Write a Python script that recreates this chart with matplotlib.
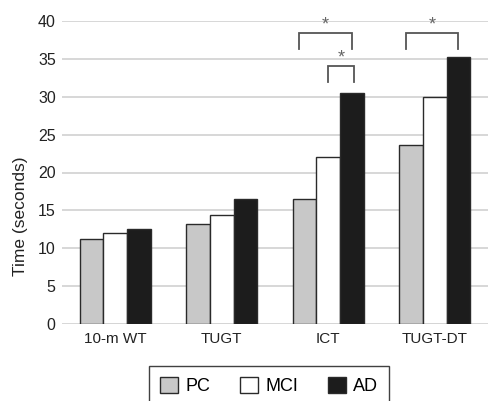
import matplotlib
matplotlib.use("Agg")
import matplotlib.pyplot as plt
import numpy as np

plt.rcParams['font.family'] = ['Liberation Sans', 'DejaVu Sans']

categories = ["10-m WT", "TUGT", "ICT", "TUGT-DT"]
groups = ["PC", "MCI", "AD"]
pc = [11.2, 13.2, 16.5, 23.6]
mci = [12.0, 14.4, 22.1, 30.0]
ad = [12.5, 16.5, 30.5, 35.3]
yticks = [0, 5, 10, 15, 20, 25, 30, 35, 40]
colors = ["#c8c8c8", "#ffffff", "#1c1c1c"]

fig = plt.figure(figsize=(4.89, 4.01), dpi=100)
ax = fig.add_axes([62/489, 1-324/401, 426/489, 303/401])

x = np.arange(len(categories))
w = 0.222
series = [pc, mci, ad]
for i, (vals, col, name) in enumerate(zip(series, colors, groups)):
    ax.bar(x + (i-1)*w, vals, w, color=col, edgecolor="#2a2a2a", linewidth=1.0,
           label=name, zorder=3)

ax.set_xlim(-0.5, 3.5)
ax.set_ylim(0, 40)
ax.set_yticks(yticks)
ax.set_xticks(x)
ax.set_xticklabels(categories, fontsize=11)
ax.tick_params(axis='y', labelsize=11.5, length=0, pad=4.5, colors="#222222")
ax.tick_params(axis='x', length=0, pad=6, colors="#222222")
ax.grid(axis='y', color="#d4d4d4", linewidth=1.3, zorder=0)
for s in ax.spines.values():
    s.set_visible(False)
ax.set_ylabel("Time (seconds)", fontsize=12.5, color="#222222")
ax.yaxis.set_label_coords(-0.08, (324-216)/303)

def bracket(x1, x2, ybot, ytop, ystar):
    ax.plot([x1, x1, x2, x2], [ybot, ytop, ytop, ybot], color="#555555",
            linewidth=1.3, zorder=4, solid_joinstyle='miter')
    ax.text((x1+x2)/2, ystar, "*", ha='center', va='center', fontsize=13,
            color="#666666")

# ICT PC vs AD
bracket(2 - w - 0.05, 2 + w, 36.3, 38.4, 39.5)
# ICT MCI vs AD
bracket(2 - 0.0, 2 + w + 0.02, 31.9, 34.0, 35.1)
# TUGT-DT PC vs AD
bracket(3 - w - 0.05, 3 + w, 36.3, 38.4, 39.5)

leg = fig.legend(loc='upper left', bbox_to_anchor=(149/489, 1-366/401),
                 ncol=3, fontsize=13, frameon=True, fancybox=False,
                 edgecolor="#111111", handlelength=1.0, handleheight=1.0,
                 columnspacing=1.65, handletextpad=0.4, borderpad=0.6,
                 borderaxespad=0)
leg.get_frame().set_linewidth(1.0)

fig.savefig("out.png", dpi=100)
